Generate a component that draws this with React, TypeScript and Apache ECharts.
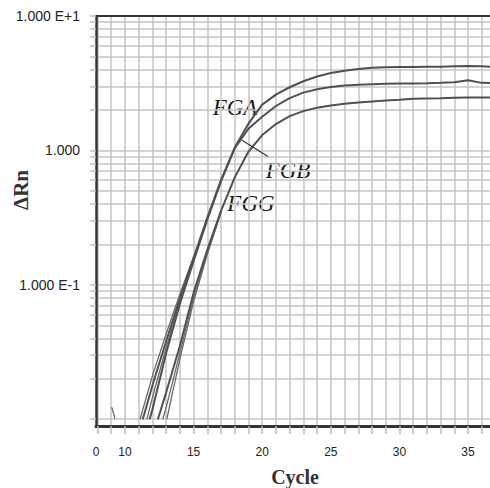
import React, { useEffect, useRef } from "react";
import * as echarts from "echarts";

// ---- data (cycle, ΔRn) ----
const fgaCycles = [11.3, 12, 13, 14, 15, 16, 17, 18, 19, 20, 21, 22, 23, 24, 25, 26, 27, 28, 29, 30, 31, 32, 33, 34, 35, 36, 36.6];
const fgaValues = [0.01, 0.0178, 0.038, 0.079, 0.158, 0.316, 0.6, 1.05, 1.58, 2.19, 2.6, 2.95, 3.27, 3.55, 3.76, 3.91, 4.03, 4.12, 4.15, 4.17, 4.18, 4.19, 4.2, 4.23, 4.24, 4.22, 4.2];

const fgbCycles = [11.8, 12, 13, 14, 15, 16, 17, 18, 19, 20, 21, 22, 23, 24, 25, 26, 27, 28, 29, 30, 31, 32, 33, 34, 35, 36, 36.6];
const fgbValues = [0.01, 0.0118, 0.031, 0.072, 0.15, 0.305, 0.59, 1.04, 1.45, 1.78, 2.14, 2.45, 2.69, 2.85, 2.96, 3.04, 3.08, 3.11, 3.13, 3.14, 3.15, 3.16, 3.18, 3.22, 3.33, 3.18, 3.17];

const fggCycles = [12.4, 13, 14, 15, 16, 17, 18, 19, 20, 21, 22, 23, 24, 25, 26, 27, 28, 29, 30, 31, 32, 33, 34, 35, 36, 36.6];
const fggValues = [0.01, 0.0158, 0.035, 0.087, 0.182, 0.355, 0.63, 0.98, 1.3, 1.57, 1.8, 1.96, 2.08, 2.16, 2.22, 2.27, 2.31, 2.35, 2.38, 2.42, 2.43, 2.44, 2.46, 2.48, 2.48, 2.48];

// replicate wells (early part only, they merge with the main traces)
const repA2Cycles = [11.1, 12, 13, 14, 15];
const repA2Values = [0.01, 0.021, 0.043, 0.085, 0.162];
const repB2Cycles = [11.6, 12, 13, 14, 15, 16];
const repB2Values = [0.01, 0.0145, 0.034, 0.075, 0.153, 0.31];
const repG2Cycles = [12.75, 13, 14, 15, 16, 17];
const repG2Values = [0.01, 0.0122, 0.031, 0.08, 0.175, 0.35];
const repG3Cycles = [13.05, 14, 15, 16, 17];
const repG3Values = [0.01, 0.028, 0.075, 0.168, 0.345];
const stubCycles = [9.03, 9.2, 9.27];
const stubValues = [0.0123, 0.0108, 0.0101];

// axis ticks
const X_MIN = 7.89;
const X_MAX = 36.6;
const xGridValues = [8, 9, 10, 11, 12, 13, 14, 15, 16, 17, 18, 19, 20, 21, 22, 23, 24, 25, 26, 27, 28, 29, 30, 31, 32, 33, 34, 35, 36];
const xLabelValues = [X_MIN, 10, 15, 20, 25, 30, 35];
const xLabelTexts = ["0", "10", "15", "20", "25", "30", "35"];
const yGridValues = [
  0.01, 0.02, 0.03, 0.04, 0.05, 0.06, 0.07, 0.08, 0.09,
  0.1, 0.2, 0.3, 0.4, 0.5, 0.6, 0.7, 0.8, 0.9,
  1, 2, 3, 4, 5, 6, 7, 8, 9, 10,
];
const yLabelValues = [0.1, 1, 10];
const yLabelTexts = ["1.000 E-1", "1.000", "1.000 E+1"];

const zip = (c: number[], v: number[]) => c.map((x, i) => [x, v[i]]);

export default function App() {
  const ref = useRef<HTMLDivElement>(null);
  useEffect(() => {
    if (!ref.current) return;
    const chart = echarts.init(ref.current, null, { renderer: "svg" });
    const mainLine = { color: "#505050", width: 2 };
    const repLine = { color: "#6a6a6a", width: 1.3 };
    const line = (name: string, c: number[], v: number[], ls: any, extra: any = {}) => ({
      type: "line",
      name,
      data: zip(c, v),
      showSymbol: false,
      symbol: "none",
      lineStyle: ls,
      z: 3,
      ...extra,
    });
    const labelFont = "italic 23px 'Liberation Serif'";
    chart.setOption({
      animation: false,
      grid: { left: 96, right: 0, top: 16, bottom: 62 },
      xAxis: [
        {
          type: "value",
          min: X_MIN,
          max: X_MAX,
          axisLine: { show: true, onZero: false, lineStyle: { color: "#333", width: 3 } },
          axisTick: { show: true, length: 8, customValues: xGridValues, lineStyle: { color: "#bdbdbd", width: 1.5 } },
          splitLine: { show: true, lineStyle: { color: "#c4c4c4", width: 1.5 } },
          axisLabel: {
            customValues: xLabelValues,
            margin: 20,
            fontFamily: "Liberation Sans",
            fontSize: 12,
            color: "#222",
            formatter: (v: number) => {
              const i = xLabelValues.findIndex((x) => Math.abs(x - v) < 1e-6);
              return i >= 0 ? xLabelTexts[i] : "";
            },
          },
        },
        {
          type: "value",
          position: "top",
          min: X_MIN,
          max: X_MAX,
          axisLine: { show: true, onZero: false, lineStyle: { color: "#333", width: 2 } },
          axisTick: { show: false },
          axisLabel: { show: false },
          splitLine: { show: false },
        },
      ],
      yAxis: {
        type: "log",
        logBase: 10,
        min: 0.0089,
        max: 10,
        axisLine: { show: true, lineStyle: { color: "#333", width: 2.5 } },
        axisTick: { show: true, length: 6, customValues: yGridValues, lineStyle: { color: "#bdbdbd", width: 1.5 } },
        splitLine: { show: true, lineStyle: { color: "#c4c4c4", width: 1.5 } },
        axisLabel: {
          customValues: yLabelValues,
          margin: 16,
          fontFamily: "Liberation Sans",
          fontSize: 14,
          color: "#222",
          formatter: (v: number) => {
            const i = yLabelValues.findIndex((x) => Math.abs(Math.log10(x) - Math.log10(v)) < 1e-3);
            return i >= 0 ? yLabelTexts[i] : "";
          },
        },
      },
      series: [
        line("stub", stubCycles, stubValues, repLine),
        line("FGA rep", repA2Cycles, repA2Values, repLine),
        line("FGB rep", repB2Cycles, repB2Values, repLine),
        line("FGG rep 2", repG2Cycles, repG2Values, repLine),
        line("FGG rep 3", repG3Cycles, repG3Values, repLine),
        line("FGG", fggCycles, fggValues, mainLine),
        line("FGB", fgbCycles, fgbValues, mainLine, {
          markLine: {
            silent: true,
            symbol: "none",
            label: { show: false },
            lineStyle: { color: "#333", width: 1.2, type: "solid" },
            data: [[{ coord: [18.53, 1.19] }, { coord: [20.42, 0.9] }]],
          },
        }),
        line("FGA", fgaCycles, fgaValues, mainLine),
      ],
      graphic: [
        { type: "text", x: 235, y: 107, style: { text: "FGA", font: labelFont, fill: "#1a1a1a", align: "center", verticalAlign: "middle" } },
        { type: "text", x: 288, y: 170, style: { text: "FGB", font: labelFont, fill: "#1a1a1a", align: "center", verticalAlign: "middle" } },
        { type: "text", x: 251, y: 203, style: { text: "FGG", font: labelFont, fill: "#1a1a1a", align: "center", verticalAlign: "middle" } },
        { type: "text", x: 21, y: 190, rotation: Math.PI / 2, style: { text: "ΔRn", font: "bold 21px 'Liberation Serif'", fill: "#333", align: "center", verticalAlign: "middle" } },
        { type: "text", x: 295, y: 477, style: { text: "Cycle", font: "bold 20px 'Liberation Serif'", fill: "#333", align: "center", verticalAlign: "middle" } },
      ],
    });
    return () => chart.dispose();
  }, []);
  return <div ref={ref} style={{ width: 490, height: 488, position: "absolute", left: 0, top: 0 }} />;
}
